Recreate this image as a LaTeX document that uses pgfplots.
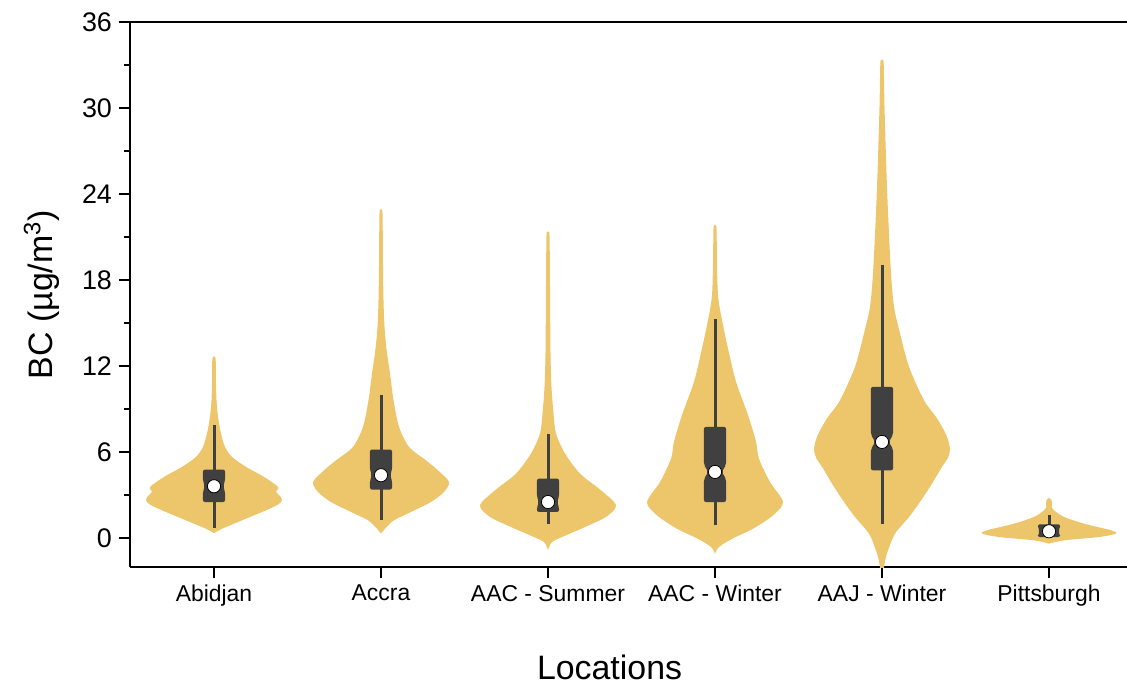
\documentclass[border=0pt]{standalone}
\usepackage{pgfplots}
\pgfplotsset{compat=1.18}
\usepackage{pgfplotstable}
\usepackage{fontspec}
\setmainfont{Liberation Sans}
\definecolor{vio}{HTML}{EDC56B}
\definecolor{bx}{HTML}{404040}

% violin outlines: offset from the centre (x units) and value; right side up, left side down
\pgfplotstableread{
d y
0 0.37
0.012 0.44
0.048 0.67
0.120 1.02
0.216 1.49
0.311 1.95
0.383 2.35
0.407 2.65
0.395 2.95
0.371 3.25
0.383 3.58
0.299 4.28
0.192 4.98
0.108 5.67
0.066 6.37
0.042 7.30
0.024 8.47
0.015 9.63
0.012 10.8
0.010 12.45
0 12.68
-0.010 12.45
-0.012 10.8
-0.015 9.63
-0.024 8.47
-0.042 7.30
-0.066 6.37
-0.108 5.67
-0.192 4.98
-0.299 4.28
-0.383 3.58
-0.371 3.25
-0.395 2.95
-0.407 2.65
-0.383 2.35
-0.311 1.95
-0.216 1.49
-0.120 1.02
-0.048 0.67
-0.012 0.44
0 0.37
}\vA
\pgfplotstableread{
d y
0 0.33
0.024 0.67
0.078 1.26
0.180 1.84
0.299 2.53
0.377 3.23
0.407 3.93
0.341 4.74
0.269 5.44
0.168 6.37
0.108 7.77
0.075 9.63
0.054 11.49
0.034 13.10
0.021 14.74
0.015 16.60
0.012 18.93
0.009 22.64
0 22.86
-0.009 22.64
-0.012 18.93
-0.015 16.60
-0.021 14.74
-0.034 13.10
-0.054 11.49
-0.075 9.63
-0.108 7.77
-0.168 6.37
-0.269 5.44
-0.341 4.74
-0.407 3.93
-0.377 3.23
-0.299 2.53
-0.180 1.84
-0.078 1.26
-0.024 0.67
0 0.33
}\vB
\pgfplotstableread{
d y
0 -0.84
0.024 -0.26
0.108 0.21
0.222 0.79
0.347 1.49
0.407 2.30
0.317 3.35
0.192 4.51
0.102 5.91
0.048 7.30
0.033 8.70
0.021 10.56
0.015 12.88
0.012 17.53
0.009 21.10
0 21.32
-0.009 21.10
-0.012 17.53
-0.015 12.88
-0.021 10.56
-0.033 8.70
-0.048 7.30
-0.102 5.91
-0.192 4.51
-0.317 3.35
-0.407 2.30
-0.347 1.49
-0.222 0.79
-0.108 0.21
-0.024 -0.26
0 -0.84
}\vC
\pgfplotstableread{
d y
0 -1.07
0.024 -0.60
0.108 0.00
0.228 0.67
0.347 1.60
0.407 2.53
0.329 3.93
0.263 5.56
0.246 6.72
0.198 8.58
0.126 10.91
0.078 13.23
0.036 15.56
0.018 16.95
0.012 19.05
0.009 21.59
0 21.81
-0.009 21.59
-0.012 19.05
-0.018 16.95
-0.036 15.56
-0.078 13.23
-0.126 10.91
-0.198 8.58
-0.246 6.72
-0.263 5.56
-0.329 3.93
-0.407 2.53
-0.347 1.60
-0.228 0.67
-0.108 0.00
-0.024 -0.60
0 -1.07
}\vD
\pgfplotstableread{
d y
0 -2.60
0.012 -2.00
0.020 -1.50
0.036 -0.84
0.078 0.33
0.162 1.49
0.234 2.65
0.299 3.81
0.359 4.98
0.392 5.55
0.407 6.14
0.396 6.85
0.371 7.53
0.323 8.47
0.251 9.63
0.162 11.95
0.108 14.28
0.072 16.14
0.054 18.47
0.039 21.95
0.027 25.44
0.015 30.09
0.010 33.10
0 33.32
-0.010 33.10
-0.015 30.09
-0.027 25.44
-0.039 21.95
-0.054 18.47
-0.072 16.14
-0.108 14.28
-0.162 11.95
-0.251 9.63
-0.323 8.47
-0.371 7.53
-0.396 6.85
-0.407 6.14
-0.392 5.55
-0.359 4.98
-0.299 3.81
-0.234 2.65
-0.162 1.49
-0.078 0.33
-0.036 -0.84
-0.020 -1.50
-0.012 -2.00
0 -2.60
}\vE
\pgfplotstableread{
d y
0 -0.37
0.090 -0.14
0.299 0.09
0.401 0.33
0.371 0.56
0.210 1.02
0.090 1.49
0.030 1.95
0.016 2.20
0.018 2.42
0.015 2.65
0 2.82
-0.015 2.65
-0.018 2.42
-0.016 2.20
-0.030 1.95
-0.090 1.49
-0.210 1.02
-0.371 0.56
-0.401 0.33
-0.299 0.09
-0.090 -0.14
0 -0.37
}\vF

\newcommand{\violin}[2]{%
  \addplot[fill=vio, draw=none, smooth] table[x expr={#1+\thisrow{d}}, y=y]{#2} -- cycle;
}

\begin{document}
\begin{tikzpicture}
\begin{axis}[
  at={(0,0)}, anchor=south west,
  scale only axis, width=498.5bp, height=272.5bp,
  xmin=-0.503, xmax=5.467, ymin=-2, ymax=36,
  axis x line*=box, axis y line*=left,
  xtick={0,1,2,3,4,5},
  xticklabels={Abidjan, Accra, AAC - Summer, AAC - Winter, AAJ - Winter, Pittsburgh},
  xtick pos=left,
  ytick={0,6,...,36}, minor y tick num=1,
  tick align=outside,
  major tick length=5.5bp, minor tick length=2.8bp,
  every tick/.style={black, line width=1.1bp},
  axis line style={line width=1.1bp},
  /pgf/number format/assume math mode=true,
  yticklabel style={font=\fontsize{13.5}{16}\selectfont},
  xticklabel style={font=\fontsize{11.5}{14}\selectfont},
  ylabel={BC (µg/m\textsuperscript{3})},
  xlabel={Locations},
  label style={font=\fontsize{17}{20}\selectfont},
  ylabel style={at={(axis description cs:-0.0883,0.5)}, anchor=center},
  xlabel style={at={(axis description cs:0.481,-0.185)}, anchor=center},
]
\violin{0}{\vA}
\violin{1}{\vB}
\violin{2}{\vC}
\violin{3}{\vD}
\violin{4}{\vE}
\violin{5}{\vF}

% whiskers
\addplot[bx, line width=1.5bp] coordinates {(0,0.72) (0,7.93)};
\addplot[bx, line width=1.5bp] coordinates {(1,1.26) (1,9.98)};
\addplot[bx, line width=1.5bp] coordinates {(2,1.02) (2,7.30)};
\addplot[bx, line width=1.5bp] coordinates {(3,0.91) (3,15.28)};
\addplot[bx, line width=1.5bp] coordinates {(4,1.00) (4,19.05)};
\addplot[bx, line width=1.5bp] coordinates {(5,0.00) (5,1.60)};

% notched boxes (Q1, median, Q3)
\addplot[fill=bx, draw=none, rounded corners=1bp] coordinates {(-0.066,2.53) (-0.066,3.28) (-0.054,3.63) (-0.066,3.98) (-0.066,4.79) (0.066,4.79) (0.066,3.98) (0.054,3.63) (0.066,3.28) (0.066,2.53)} -- cycle;
\addplot[fill=bx, draw=none, rounded corners=1bp] coordinates {(0.934,3.40) (0.934,4.05) (0.946,4.40) (0.934,4.75) (0.934,6.19) (1.066,6.19) (1.066,4.75) (1.054,4.40) (1.066,4.05) (1.066,3.40)} -- cycle;
\addplot[fill=bx, draw=none, rounded corners=1bp] coordinates {(1.934,1.84) (1.934,2.18) (1.946,2.53) (1.934,2.88) (1.934,4.16) (2.066,4.16) (2.066,2.88) (2.054,2.53) (2.066,2.18) (2.066,1.84)} -- cycle;
\addplot[fill=bx, draw=none, rounded corners=1bp] coordinates {(2.934,2.53) (2.934,4.13) (2.959,4.63) (2.934,5.13) (2.934,7.77) (3.066,7.77) (3.066,5.13) (3.041,4.63) (3.066,4.13) (3.066,2.53)} -- cycle;
\addplot[fill=bx, draw=none, rounded corners=1bp] coordinates {(3.934,4.74) (3.934,6.22) (3.959,6.72) (3.934,7.22) (3.934,10.56) (4.066,10.56) (4.066,7.22) (4.041,6.72) (4.066,6.22) (4.066,4.74)} -- cycle;
\addplot[fill=bx, draw=none, rounded corners=1bp] coordinates {(4.934,0.09) (4.934,0.29) (4.946,0.49) (4.934,0.69) (4.934,0.98) (5.066,0.98) (5.066,0.69) (5.054,0.49) (5.066,0.29) (5.066,0.09)} -- cycle;

% medians
\addplot[only marks, mark=*, mark size=3.3bp, mark options={fill=white, draw=none}] coordinates {(0,3.63) (1,4.40) (2,2.53) (3,4.63) (4,6.72) (5,0.49)};
\end{axis}
\pgfresetboundingbox
\useasboundingbox (-65bp,-59bp) rectangle (498.5bp,283.5bp);
\end{tikzpicture}
\end{document}
